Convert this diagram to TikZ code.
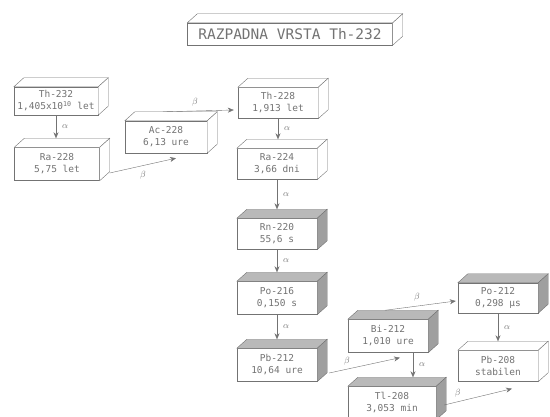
\documentclass[tikz,border=0pt]{standalone}
\usepackage{fontspec}
\newfontfamily\mono{DejaVu Sans Mono}
\usetikzlibrary{arrows.meta}

\colorlet{linija}{black!55}
\colorlet{besedilo}{black!55}
\tikzset{
  kocka/.style={draw=linija,fill=white,minimum width=80pt,minimum height=31pt,
    align=center,inner sep=1pt,text=besedilo,font=\mono\fontsize{9.5}{12}\selectfont},
  puscica/.style={draw=linija,-{Stealth[length=6pt,width=5pt]}},
  oznaka/.style={text=besedilo,font=\fontsize{9.5}{9.5}\selectfont,inner sep=2pt},
}
% top and side face of a box, plus the level of its back edge
\newcommand\globina[3]{%
  \filldraw[draw=linija,fill=#2] (#1.north west) -- ++(10,-9) -- ([shift={(10,-9)}]#1.north east) -- (#1.north east) -- cycle;
  \filldraw[draw=linija,fill=#3] (#1.north east) -- ++(10,-9) -- ([shift={(10,-9)}]#1.south east) -- (#1.south east) -- cycle;
  \coordinate (#1z) at ([yshift=9pt]#1.north);}

\begin{document}
\begin{tikzpicture}[x=1pt,y=-1pt]
\useasboundingbox (0,0) rectangle (550,417);
\clip (0,0) rectangle (550,417);
\node[kocka,minimum width=205pt,minimum height=22pt,font=\mono\fontsize{14.5}{14.5}\selectfont] (naslov) at (290,34) {RAZPADNA VRSTA Th-232};
\globina{naslov}{white}{white}
% left part
\node[kocka,minimum width=84pt,minimum height=28pt] (th232) at (56,101) {Th-232\\1,405x10\textsuperscript{10} let};
\globina{th232}{white}{white}
\node[kocka,minimum width=85pt,minimum height=33pt] (ra228) at (57,164) {Ra-228\\5,75 let};
\globina{ra228}{white}{white}
\node[kocka,minimum width=82pt,minimum height=32pt] (ac228) at (166,137) {Ac-228\\6,13 ure};
\globina{ac228}{white}{white}
% middle column
\node[kocka] (th228) at (278,103) {Th-228\\1,913 let};
\globina{th228}{white}{white}
\node[kocka] (ra224) at (277,164) {Ra-224\\3,66 dni};
\globina{ra224}{white}{white}
\node[kocka] (rn220) at (277,234) {Rn-220\\55,6 s};
\globina{rn220}{gray!55}{gray!75}
\node[kocka,minimum height=33pt] (po216) at (277,298) {Po-216\\0,150 s};
\globina{po216}{gray!55}{gray!75}
\node[kocka,minimum height=33pt] (pb212) at (277,365) {Pb-212\\10,64 ure};
\globina{pb212}{gray!55}{gray!75}
% right part
\node[kocka,minimum height=33pt] (bi212) at (388,336) {Bi-212\\1,010 ure};
\globina{bi212}{gray!55}{gray!75}
\node[kocka,minimum width=88pt,minimum height=33pt] (tl208) at (392,403) {Tl-208\\3,053 min};
\globina{tl208}{gray!55}{gray!75}
\node[kocka,minimum height=30pt] (po212) at (498,298) {Po-212\\0,298 μs};
\globina{po212}{gray!55}{gray!75}
\node[kocka] (pb208) at (498,366) {Pb-208\\stabilen};
\globina{pb208}{white}{white}

% decays
\draw[puscica] (th232.south) -- (th232.south |- ra228z) node[oznaka,midway,right=4pt] {$\alpha$};
\draw[puscica] ([shift={(10,9)}]ra228.east) -- ([shift={(10,5)}]ac228.south) node[oznaka,pos=.5,below=3pt] {$\beta$};
\draw[puscica] ([shift={(-3,-9)}]ac228.north) -- ([shift={(-4,7)}]th228.west) node[oznaka,pos=.45,above=3pt] {$\beta$};
\draw[puscica] (th228.south) -- (th228.south |- ra224z) node[oznaka,midway,right=4pt] {$\alpha$};
\draw[puscica] (ra224.south) -- (ra224.south |- rn220z) node[oznaka,midway,right=4pt] {$\alpha$};
\draw[puscica] (rn220.south) -- (rn220.south |- po216z) node[oznaka,midway,right=4pt] {$\alpha$};
\draw[puscica] (po216.south) -- (po216.south |- pb212z) node[oznaka,midway,right=4pt] {$\alpha$};
\draw[puscica] ([shift={(12,8)}]pb212.east) -- ([shift={(12,5)}]bi212.south) node[oznaka,pos=.25,above=2pt] {$\beta$};
\draw[puscica] ([shift={(-3,-9)}]bi212.north) -- ([shift={(-2,3)}]po212.west) node[oznaka,pos=.45,above=3pt] {$\beta$};
\draw[puscica] ([xshift=25pt]bi212.south) -- ([xshift=25pt]bi212.south |- tl208z) node[oznaka,midway,right=4pt] {$\alpha$};
\draw[puscica] (po212.south) -- (po212.south |- pb208z) node[oznaka,midway,right=4pt] {$\alpha$};
\draw[puscica] ([shift={(8,2)}]tl208.east) -- ([shift={(14,7)}]pb208.south) node[oznaka,pos=.2,above=2pt] {$\beta$};
\end{tikzpicture}
\end{document}
